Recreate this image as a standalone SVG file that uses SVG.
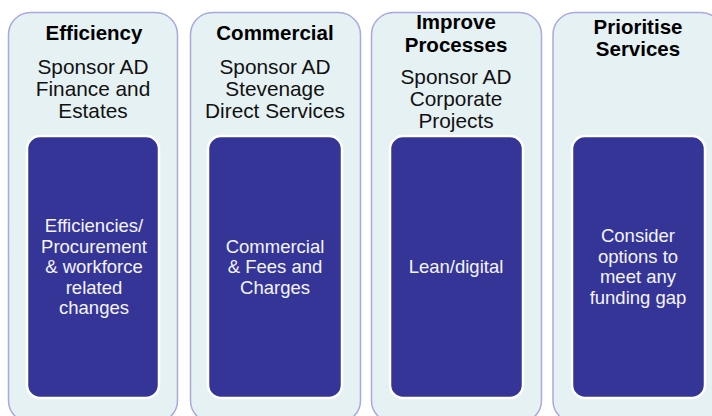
<svg xmlns="http://www.w3.org/2000/svg" width="712" height="416" viewBox="0 0 712 416">
<style>
.outer{fill:#E5F1F3;stroke:#A9A9E0;stroke-width:1.5}
.inner{fill:#353598;stroke:#FFFFFF;stroke-width:2.5}
.h{font-family:"Liberation Sans",Arial,sans-serif;font-weight:bold;font-size:20.5px;fill:#000;text-anchor:middle}
.s{font-family:"Liberation Sans",Arial,sans-serif;font-size:20.8px;fill:#111;text-anchor:middle}
.t{font-family:"Liberation Sans",Arial,sans-serif;font-size:18.5px;fill:#F4F4FF;text-anchor:middle}
</style>
<rect width="712" height="416" fill="#FFFFFF"/>
<g id="efficiency">
<rect class="outer" x="8.5" y="12.5" width="169" height="410" rx="22"/>
<rect class="inner" x="27" y="136" width="132" height="262" rx="13"/>
<text class="h" x="94" y="40">Efficiency</text>
<text class="s" x="93" y="74">Sponsor AD</text>
<text class="s" x="93" y="96">Finance and</text>
<text class="s" x="93" y="118">Estates</text>
<text class="t" x="94" y="232">Efficiencies/</text>
<text class="t" x="94" y="252.5">Procurement</text>
<text class="t" x="94" y="273">&amp; workforce</text>
<text class="t" x="94" y="293.5">related</text>
<text class="t" x="94" y="314">changes</text>
</g>
<g id="commercial">
<rect class="outer" x="190.5" y="12.5" width="170" height="410" rx="22"/>
<rect class="inner" x="208" y="136" width="134" height="262" rx="13"/>
<text class="h" x="275" y="40">Commercial</text>
<text class="s" x="275" y="74">Sponsor AD</text>
<text class="s" x="275" y="96">Stevenage</text>
<text class="s" x="275" y="118">Direct Services</text>
<text class="t" x="275" y="252.5">Commercial</text>
<text class="t" x="275" y="273">&amp; Fees and</text>
<text class="t" x="275" y="293.5">Charges</text>
</g>
<g id="improve">
<rect class="outer" x="371.5" y="12.5" width="170" height="410" rx="22"/>
<rect class="inner" x="390" y="136" width="133" height="262" rx="13"/>
<text class="h" x="456" y="29">Improve</text>
<text class="h" x="456" y="52">Processes</text>
<text class="s" x="456" y="84">Sponsor AD</text>
<text class="s" x="456" y="106">Corporate</text>
<text class="s" x="456" y="128">Projects</text>
<text class="t" x="456" y="273">Lean/digital</text>
</g>
<g id="prioritise">
<rect class="outer" x="553" y="12.5" width="170" height="410" rx="22"/>
<rect class="inner" x="572" y="136" width="133" height="262" rx="13"/>
<text class="h" x="638" y="34">Prioritise</text>
<text class="h" x="638" y="56">Services</text>
<text class="t" x="638" y="242">Consider</text>
<text class="t" x="638" y="262.5">options to</text>
<text class="t" x="638" y="283">meet any</text>
<text class="t" x="638" y="303.5">funding gap</text>
</g>
<g id="connectors"></g>
</svg>
